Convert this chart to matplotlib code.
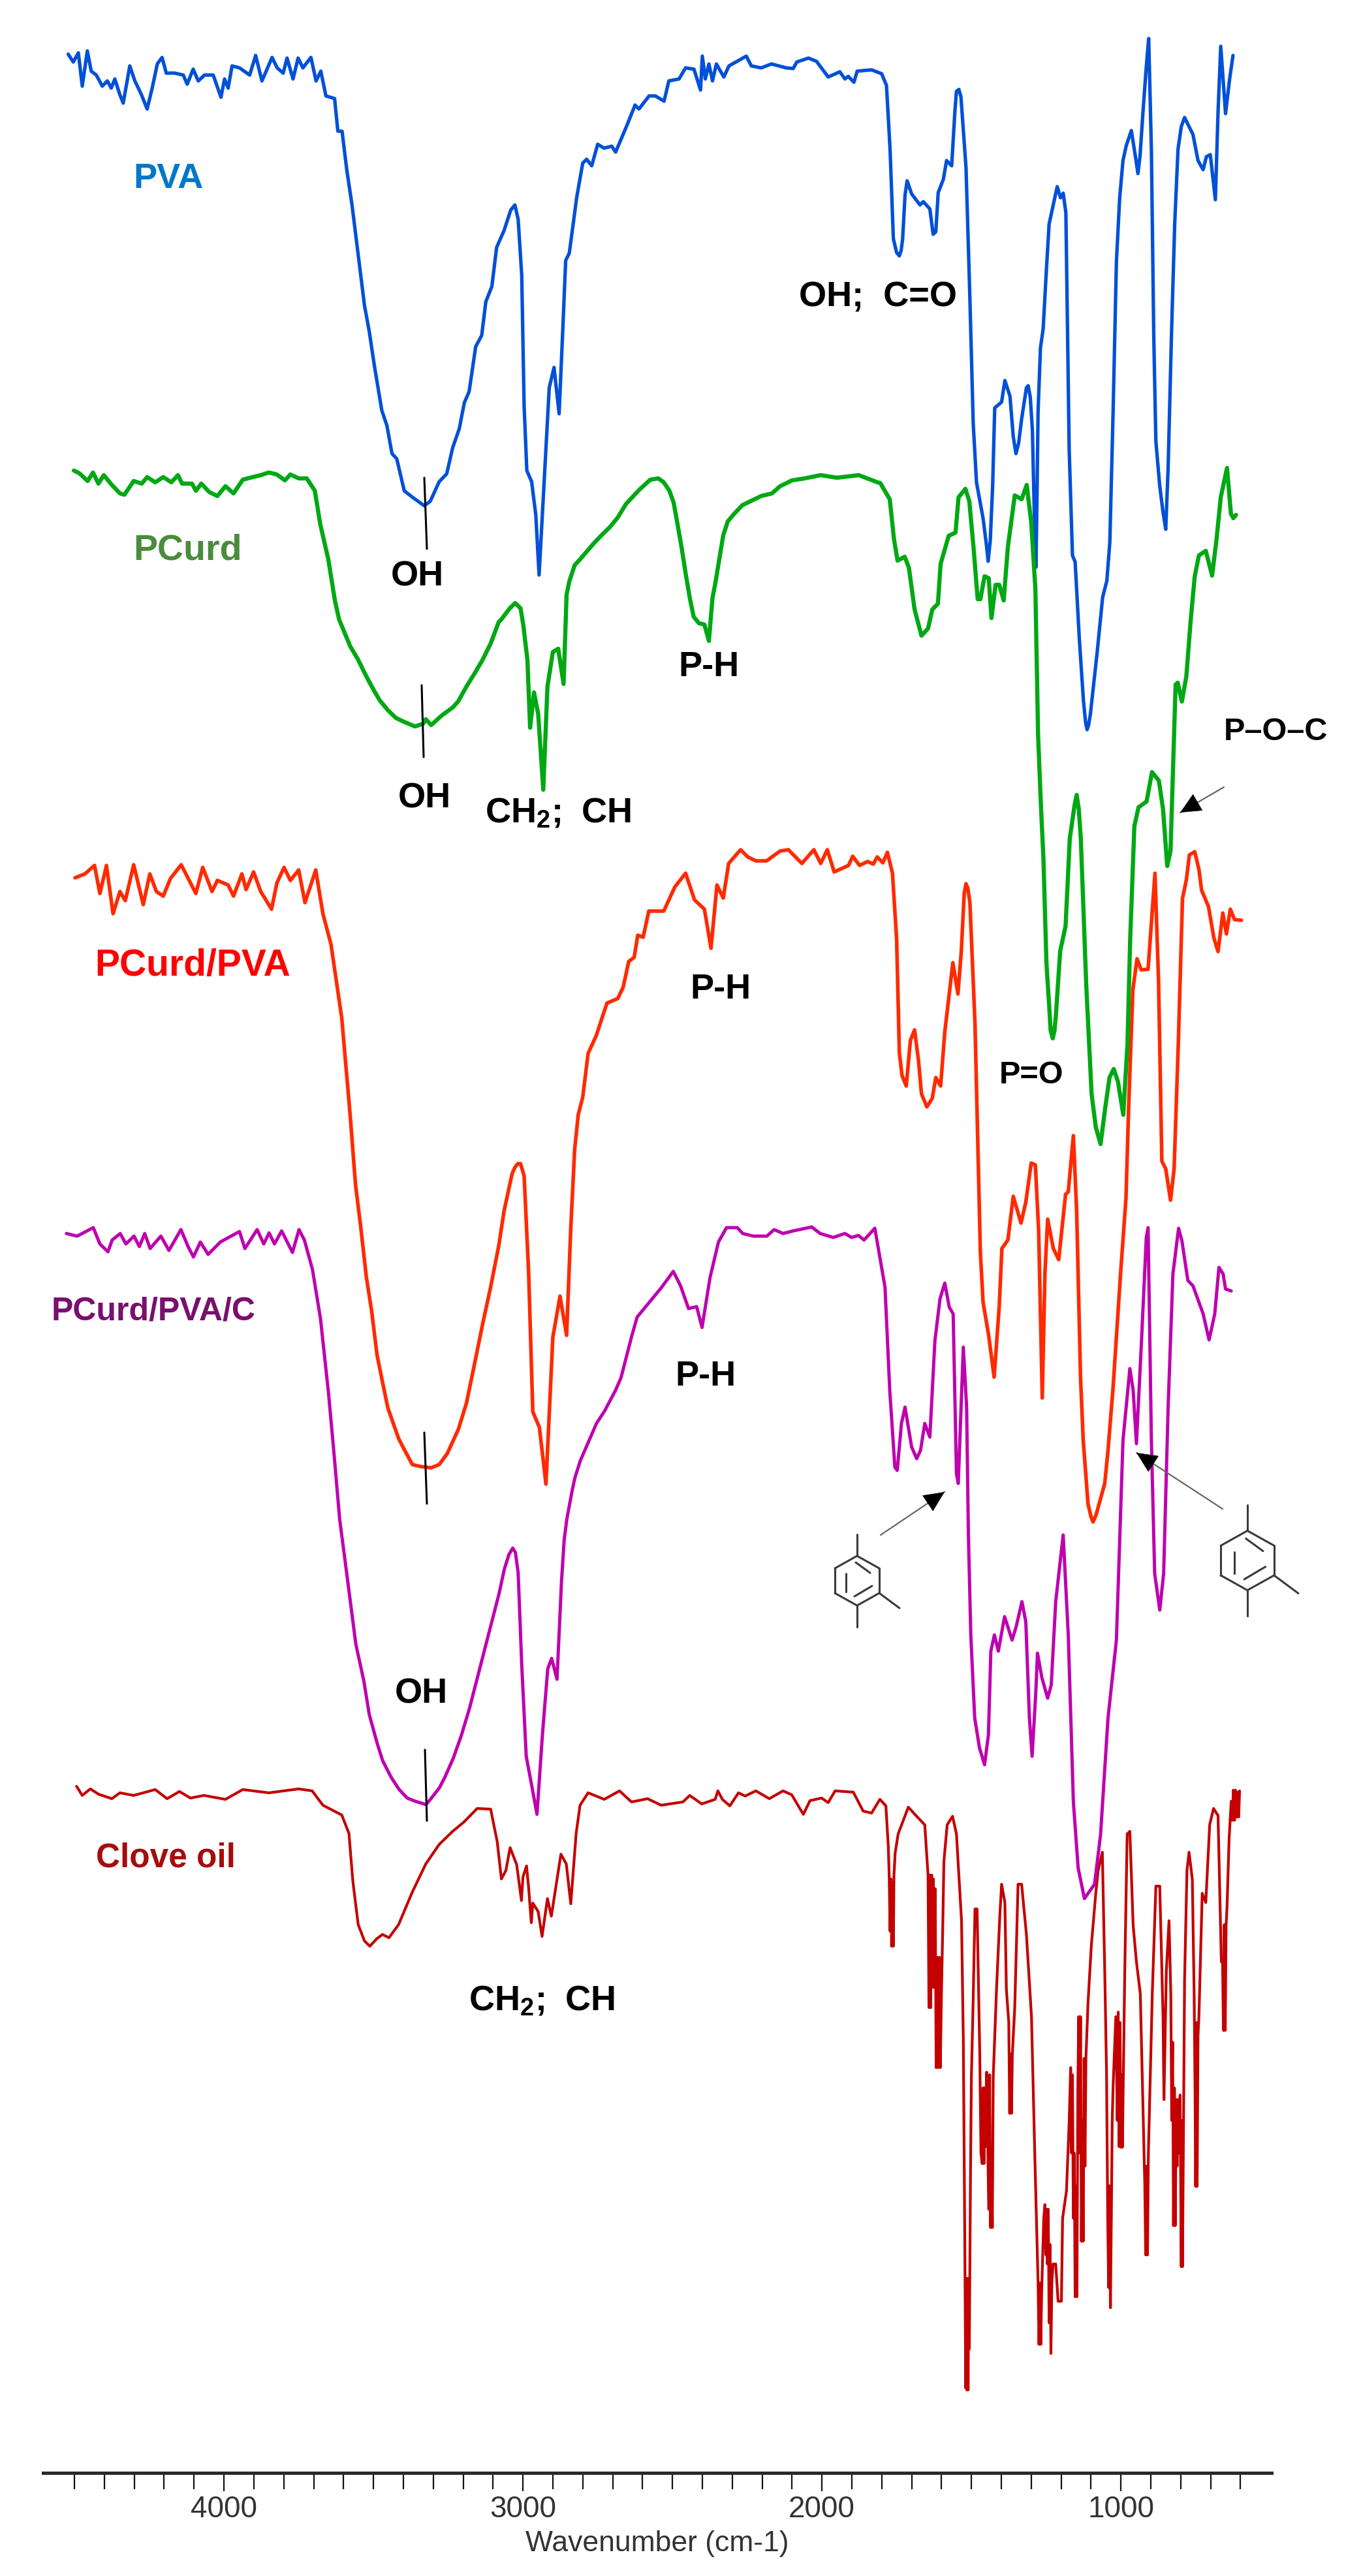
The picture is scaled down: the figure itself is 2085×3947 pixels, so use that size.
import matplotlib
matplotlib.use("Agg")
import matplotlib.pyplot as plt
from matplotlib.lines import Line2D
from matplotlib.transforms import Affine2D

W, H = 2085, 3948
plt.rcParams['font.family'] = ['Liberation Sans', 'DejaVu Sans']
plt.rcParams['mathtext.fontset'] = 'custom'
plt.rcParams['mathtext.bf'] = 'Liberation Sans:bold'
plt.rcParams['mathtext.rm'] = 'Liberation Sans'

# (wavenumber cm-1, stacked-offset signal; axis runs downward)
pva = [(4521,84),(4504,96),(4487,82),(4474,133),(4457,79),(4444,110),(4427,116),(4407,133),(4390,125),(4377,136),
(4365,122),(4349,145),(4337,159),(4315,102),(4298,125),(4277,145),(4257,168),(4240,136),(4223,99),(4207,89),
(4193,113),(4165,113),(4136,116),(4123,130),(4103,107),(4086,125),(4065,116),(4036,116),(4010,150),(3998,122),
(3986,136),(3973,102),(3948,105),(3914,116),(3894,86),(3873,125),(3839,89),(3822,105),(3802,113),(3789,90),
(3769,122),(3752,90),(3736,105),(3709,89),(3692,125),(3676,110),(3659,148),(3630,152),(3619,202),(3605,202),
(3589,262),(3572,314),(3555,377),(3530,469),(3514,509),(3497,561),(3472,630),(3455,653),(3438,696),(3422,704),
(3397,753),(3372,762),(3330,776),(3310,769),(3280,739),(3255,727),(3235,687),(3213,658),(3196,618),(3180,601),
(3158,532),(3138,515),(3124,463),(3104,440),(3088,380),(3063,354),(3041,323),(3027,315),(3016,337),(3004,423),
(2996,624),(2987,722),(2971,739),(2957,790),(2946,882),(2929,739),(2912,595),(2896,564),(2879,635),(2867,509),
(2857,400),(2845,389),(2820,303),(2800,251),(2787,245),(2770,255),(2750,222),(2729,228),(2703,225),(2690,234),
(2653,194),(2625,162),(2612,168),(2578,148),(2557,148),(2528,156),(2512,125),(2478,122),(2456,105),(2428,107),
(2406,139),(2400,87),(2390,122),(2378,99),(2366,125),(2353,99),(2328,119),(2311,102),(2253,87),(2236,102),
(2203,105),(2169,99),(2119,105),(2096,106),(2084,96),(2045,90),(2018,95),(1979,119),(1940,111),(1923,122),
(1912,118),(1893,127),(1882,110),(1834,108),(1800,114),(1784,132),(1772,230),(1761,367),(1750,388),(1741,393),(1735,385),(1730,367),
(1722,300),(1715,278),(1700,298),(1672,315),(1661,310),(1639,321),(1628,360),(1619,356),(1611,296),(1594,276),(1583,247),
(1566,255),(1555,170),(1550,141),(1542,138),(1535,149),(1518,258),(1505,459),(1494,649),(1483,740),(1461,795),(1450,835),(1444,861),(1437,830),(1429,746),
(1422,626),(1399,617),(1388,584),(1371,608),(1360,670),(1351,696),(1342,680),(1332,643),(1316,595),(1310,592),(1303,610),(1296,660),(1290,780),(1284,870),(1280,740),(1277,631),
(1269,534),(1260,505),(1249,413),(1240,344),(1224,310),(1213,287),(1202,304),(1193,297),(1184,327),(1180,459),
(1173,689),(1162,852),(1153,862),(1139,980),(1125,1076),(1118,1108),(1113,1119),(1108,1112),(1102,1095),(1079,999),(1061,916),(1047,891),
(1037,832),(1026,631),(1015,402),(1004,304),(993,247),(982,224),(965,201),(950,245),(943,267),(936,240),(926,172),(915,103),
(907,60),(898,230),(890,517),(883,677),(870,746),(859,786),(850,812),(842,718),(831,517),(820,344),
(809,230),(798,195),(787,181),(759,207),(742,247),(725,261),(714,241),(701,238),(684,307),(675,172),
(666,72),(650,175),(636,121),(625,86)]

pcurd = [(4502,722),(4484,726),(4456,738),(4438,725),(4420,742),(4402,729),(4375,744),(4348,757),(4333,759),(4302,738),
(4275,742),(4257,732),(4230,740),(4203,732),(4176,740),(4154,729),(4140,742),(4107,742),(4094,753),(4076,742),
(4049,755),(4022,761),(3995,746),(3968,757),(3937,736),(3904,732),(3877,729),(3850,725),(3823,728),(3796,737),
(3778,728),(3750,734),(3723,734),(3696,753),(3678,804),(3651,858),(3629,921),(3615,950),(3597,970),(3578,991),(3551,1012),(3533,1029),(3515,1045),(3497,1060),
(3479,1074),(3452,1089),(3425,1101),(3398,1107),(3361,1114),(3334,1110),(3325,1103),(3307,1112),(3271,1097),(3235,1085),(3217,1076),(3189,1053),(3162,1033),(3135,1012),(3108,987),(3081,954),(3072,950),(3044,933),(3026,925),
(3008,933),(2999,958),(2985,1012),(2976,1116),(2963,1062),(2949,1095),(2932,1211),(2918,1053),(2900,1000),(2882,995),(2864,1049),
(2854,912),(2845,892),(2827,867),(2809,858),(2764,834),(2737,821),(2710,809),(2683,794),(2655,773),(2610,751),(2574,736),(2547,734),(2529,740),(2510,753),(2496,771),(2483,804),(2470,838),
(2456,879),(2442,917),(2429,946),(2411,956),(2393,958),(2378,983),(2366,917),(2357,896),(2339,846),(2330,821),(2315,800),(2297,790),(2266,775),(2203,761),
(2167,757),(2140,746),(2100,737),(2058,734),(2004,729),(1950,733),(1877,729),(1814,740),(1805,741),(1773,766),(1759,827),
(1747,860),(1723,854),(1709,871),(1690,935),(1667,975),(1645,964),(1631,935),(1612,926),(1603,865),(1576,822),
(1553,817),(1543,763),(1520,750),(1507,769),(1493,839),(1479,919),(1470,919),(1456,884),(1442,887),(1433,948),
(1419,897),(1407,897),(1392,921),(1378,839),(1355,760),(1332,766),(1315,744),(1300,801),(1286,903),(1277,1127),
(1268,1229),(1259,1318),(1249,1477),(1240,1541),(1235,1580),(1228,1592),(1222,1580),(1217,1554),(1203,1458),(1185,1420),(1171,1286),(1155,1235),(1148,1219),(1141,1240),
(1134,1286),(1116,1509),(1098,1677),(1084,1728),(1068,1754),(1052,1697),(1038,1652),(1024,1639),(1010,1658),(992,1709),
(978,1601),(969,1441),(955,1267),(941,1238),(914,1229),(896,1184),(873,1197),(859,1241),(845,1328),(834,1305),
(822,1127),(817,1050),(810,1047),(796,1076),(781,1037),(767,954),(753,884),(739,852),(716,845),(695,883),
(680,827),(666,763),(645,718),(632,788),(624,795),(615,790)]

pcurd_pva = [(4498,1346),(4465,1340),(4433,1327),(4415,1370),(4393,1327),(4371,1401),(4348,1367),(4330,1381),(4302,1326),(4270,1387),
(4248,1340),(4226,1367),(4203,1374),(4179,1347),(4143,1326),(4094,1370),(4071,1330),(4040,1367),(4022,1350),(3986,1357),
(3968,1374),(3940,1340),(3926,1364),(3901,1337),(3877,1367),(3841,1394),(3823,1354),(3799,1330),(3778,1350),(3750,1334),
(3729,1384),(3693,1334),(3669,1401),(3642,1448),(3606,1561),(3578,1709),(3560,1816),(3542,1883),(3524,1957),(3506,2010),(3488,2077),(3470,2118),(3452,2158),(3416,2205),(3398,2221),
(3370,2245),(3343,2248),(3307,2250),(3280,2245),(3253,2228),(3216,2191),(3189,2151),(3162,2091),(3135,2030),(3108,1973),(3081,1910),(3063,1856),(3044,1816),(3036,1799),(3026,1789),(3017,1784),(3008,1784),(2996,1803),(2981,1950),
(2967,2164),(2945,2188),(2923,2275),(2900,2050),(2876,1987),(2854,2047),(2840,1883),(2827,1762),(2815,1709),(2800,1682),(2782,1615),(2755,1588),
(2719,1538),(2683,1531),(2665,1514),(2646,1474),(2628,1468),(2616,1434),(2598,1437),(2579,1397),(2529,1397),(2492,1360),
(2456,1339),(2426,1380),(2393,1394),(2371,1454),(2351,1357),(2330,1377),(2312,1324),(2272,1303),(2248,1314),(2221,1320),
(2185,1320),(2140,1305),(2112,1303),(2067,1324),(2027,1303),(2004,1324),(1982,1303),(1959,1337),(1911,1327),(1897,1313),
(1874,1327),(1847,1321),(1828,1325),(1815,1314),(1796,1323),(1781,1307),(1764,1339),(1750,1441),(1741,1614),(1732,1649),
(1718,1665),(1704,1595),(1690,1579),(1677,1626),(1667,1677),(1649,1697),(1631,1684),(1619,1652),(1603,1665),(1589,1582),
(1580,1547),(1562,1476),(1545,1524),(1534,1460),(1524,1370),(1518,1355),(1512,1362),(1505,1384),(1488,1569),(1470,1920),(1461,1996),(1442,2048),
(1424,2111),(1407,2003),(1398,1914),(1378,1901),(1360,1834),(1334,1875),(1318,1843),(1300,1783),(1286,1786),(1275,1888),
(1263,2143),(1254,1952),(1245,1869),(1226,1914),(1208,1931),(1185,1831),(1176,1827),(1159,1741),(1148,1856),(1135,2111),
(1126,2208),(1110,2305),(1100,2325),(1093,2333),(1083,2322),(1071,2302),(1054,2274),(1043,2223),(1026,2126),(1001,1952),(983,1837),(974,1697),
(960,1518),(946,1470),(932,1487),(909,1486),(886,1339),(874,1505),(863,1780),(850,1792),(834,1840),(822,1792),
(808,1601),(794,1378),(781,1349),(771,1311),(753,1306),(739,1333),(730,1365),(707,1390),(689,1438),(675,1459),
(659,1400),(647,1432),(634,1394),(620,1410),(597,1411)]

pcurd_pva_c = [(4527,1891),(4491,1895),(4437,1882),(4415,1907),(4388,1919),(4374,1901),(4347,1891),(4328,1907),(4301,1895),(4283,1911),
(4265,1891),(4247,1914),(4211,1895),(4184,1917),(4144,1885),(4120,1911),(4102,1927),(4079,1904),(4053,1923),(4012,1904),
(3948,1888),(3930,1914),(3889,1885),(3867,1907),(3849,1890),(3831,1907),(3807,1887),(3771,1920),(3749,1885),(3731,1901),
(3704,1946),(3677,2022),(3650,2137),(3631,2233),(3613,2329),(3595,2392),(3577,2456),(3559,2520),(3532,2577),(3514,2628),(3487,2673),(3469,2699),(3441,2724),(3414,2743),(3387,2756),(3360,2761),(3324,2766),
(3306,2756),(3279,2740),(3261,2724),(3233,2695),(3206,2660),(3179,2619),(3152,2571),(3125,2523),(3098,2475),(3080,2443),(3062,2405),(3047,2383),(3034,2373),(3025,2380),(3016,2411),(3004,2552),(2989,2692),
(2971,2736),(2953,2781),(2935,2660),(2917,2558),(2904,2542),(2886,2574),(2871,2424),(2862,2360),(2853,2328),(2835,2284),(2826,2265),(2808,2239),(2772,2201),(2754,2182),
(2727,2163),(2690,2131),(2672,2112),(2654,2080),(2636,2048),(2618,2019),(2573,1994),(2537,1974),(2497,1949),(2473,1971),(2446,2006),(2419,2003),
(2401,2035),(2374,1958),(2346,1904),(2319,1882),(2283,1882),(2265,1891),(2229,1895),(2184,1895),(2160,1885),(2130,1891),
(2096,1887),(2034,1881),(2006,1891),(1962,1897),(1923,1891),(1901,1897),(1878,1894),(1859,1901),(1823,1883),(1806,1928),
(1789,1973),(1773,2132),(1756,2249),(1748,2254),(1734,2182),(1722,2157),(1700,2218),(1683,2236),(1670,2223),(1656,2182),
(1639,2203),(1622,2055),(1605,1991),(1589,1967),(1574,2004),(1561,2014),(1550,2259),(1544,2274),(1527,2065),(1516,2157),
(1510,2353),(1502,2506),(1489,2633),(1473,2679),(1456,2705),(1443,2659),(1435,2531),(1423,2506),(1410,2531),(1389,2478),
(1364,2514),(1350,2493),(1331,2455),(1318,2486),(1306,2633),(1297,2692),(1285,2598),(1279,2534),(1264,2572),(1245,2603),
(1233,2583),(1218,2455),(1193,2353),(1176,2506),(1159,2761),(1143,2863),(1122,2910),(1088,2888),(1068,2812),(1043,2633),
(1015,2514),(993,2208),(970,2098),(959,2131),(948,2213),(931,2055),(915,1897),(909,1882),(898,2208),(887,2412),
(870,2468),(857,2412),(842,2157),(826,1953),(807,1883),(796,1902),(776,1963),(759,1971),(725,2014),(705,2054),
(686,2014),(672,1943),(658,1953),(650,1976),(631,1979)]

clove_oil = [(4493,2738),(4474,2752),(4447,2742),(4420,2750),(4375,2757),(4348,2748),(4302,2752),(4230,2743),(4190,2757),(4149,2746),
(4112,2756),(4067,2752),(3995,2758),(3937,2743),(3850,2748),(3750,2742),(3705,2745),(3669,2767),(3606,2782),(3582,2810),
(3569,2883),(3551,2950),(3530,2975),(3512,2983),(3490,2972),(3470,2965),(3448,2970),(3416,2950),(3370,2900),(3325,2857),(3280,2827),(3235,2807),
(3198,2793),(3153,2772),(3108,2773),(3086,2823),(3072,2880),(3057,2867),(3043,2832),(3021,2858),(3005,2913),(3000,2877),
(2988,2860),(2981,2893),(2972,2947),(2967,2917),(2949,2930),(2936,2968),(2918,2910),(2905,2937),(2873,2842),(2855,2857),
(2840,2918),(2822,2810),(2809,2767),(2782,2748),(2728,2758),(2677,2745),(2637,2762),(2583,2757),(2538,2767),(2465,2762),
(2442,2752),(2402,2765),(2357,2758),(2348,2745),(2333,2758),(2308,2768),(2279,2748),(2257,2753),(2221,2745),(2176,2757),
(2130,2745),(2101,2751),(2079,2768),(2062,2781),(2040,2760),(2001,2756),(1979,2763),(1956,2745),(1895,2747),(1862,2776),
(1834,2779),(1806,2758),(1786,2768),(1778,2830),(1775,2874),(1772,2960),(1769,2880),(1767,2983),(1764,2885),(1761,2983),(1759,2874),(1755,2840),(1745,2811),(1711,2770),(1683,2784),(1656,2797),
(1645,2874),(1642,3077),(1639,2874),(1636,3077),(1633,2874),(1630,3046),(1627,2880),(1624,3046),(1621,2895),(1618,3169),(1614,3000),(1611,3169),(1607,3000),(1604,3169),(1600,3050),(1596,2958),(1592,2853),(1581,2797),
(1563,2784),(1550,2811),(1533,2944),(1527,3127),(1522,3442),(1519,3660),(1517,3492),(1515,3663),(1513,3492),(1511,3663),(1509,3492),(1507,3600),(1503,3330),
(1500,3183),(1494,3063),(1488,2926),(1481,2926),(1472,3148),(1468,3300),(1464,3316),(1461,3200),(1458,3316),(1455,3200),(1452,3290),(1449,3176),(1445,3300),(1442,3386),(1439,3180),(1436,3414),(1433,3300),(1430,3414),
(1427,3183),(1416,3049),(1405,2937),(1399,2888),(1388,2916),(1383,3049),(1375,3100),(1372,3239),(1369,3148),(1366,3239),(1363,3148),(1355,3077),(1344,2888),
(1332,2888),(1316,2965),(1299,3091),(1288,3302),(1277,3499),(1274,3593),(1271,3499),(1268,3593),(1265,3513),(1258,3400),(1254,3379),(1251,3456),(1249,3386),(1246,3470),(1243,3386),(1240,3560),(1237,3440),
(1234,3607),(1231,3500),(1227,3470),(1218,3470),(1210,3527),(1199,3527),(1195,3400),(1182,3358),(1173,3253),(1168,3169),(1165,3300),(1162,3180),(1159,3400),(1156,3300),
(1153,3520),(1150,3350),(1147,3520),(1144,3200),(1141,3091),(1138,3300),(1135,3091),(1132,3435),(1129,3250),(1126,3435),(1123,3155),(1120,3320),(1117,3155),(1110,3070),(1099,2983),(1084,2902),(1076,2867),(1062,2839),
(1054,3021),(1048,3176),(1044,3400),(1041,3506),(1038,3350),(1035,3537),(1032,3400),(1029,3250),(1026,3197),(1017,3091),(1012,3250),(1009,3084),(1006,3290),(1003,3100),(1000,3291),(997,3180),(995,3291),(987,3021),
(979,2811),(970,2807),(959,2951),(948,3007),(935,3056),(926,3232),(920,3350),(917,3456),(914,3320),(911,3456),(908,3300),(895,3056),(883,2891),
(870,2891),(859,3091),(856,3218),(848,3021),(839,2944),(833,3056),(830,3250),(827,3130),(824,3411),(821,3200),(818,3411),(815,3218),(812,3320),(809,3218),(805,3300),(802,3211),(798,3474),(796,3250),(794,3474),
(787,3035),(779,2867),(772,2839),(761,2881),(755,3056),(752,3200),(750,3351),(747,3100),(745,3351),(742,3120),(739,3091),(728,2902),(716,2916),
(703,2797),(690,2772),(675,2783),(664,3007),(660,3007),(657,3112),(654,2950),(651,3112),(648,2950),(645,2923),(638,2818),(631,2761),(627,2790),(624,2744),(620,2790),(617,2744),(613,2785),(610,2747),(606,2785),(603,2745)]

major_ticks = [4000, 3000, 2000, 1000]
minor_ticks = [w for w in range(4500, 500, -100) if w % 1000 != 0]

fig = plt.figure(figsize=(W / 100, H / 100), dpi=100, facecolor='white')
ax = fig.add_axes([66 / W, (H - 3790) / H, (1948 - 66) / W, 3790 / H])
ax.set_xlim(4605, 496)
ax.set_ylim(3790, 0)
ax.patch.set_alpha(0)

series = [(clove_oil, '#C40000', 3.0), (pcurd_pva_c, '#BE00AE', 3.6),
          (pcurd_pva, '#FF2A00', 4.0), (pva, '#0050D8', 3.8), (pcurd, '#00A813', 4.6)]
for pts, col, lw in series:
    xs, ys = zip(*pts)
    ax.plot(xs, ys, color=col, lw=lw, solid_joinstyle='round', solid_capstyle='round')

for s in ('left', 'right', 'top'):
    ax.spines[s].set_visible(False)
ax.spines['bottom'].set_linewidth(3.6)
ax.spines['bottom'].set_color('#2a2a2a')
ax.set_yticks([])
ax.set_xticks(major_ticks)
ax.set_xticks(minor_ticks, minor=True)
ax.set_xticklabels([str(m) for m in major_ticks], fontsize=33, color='#333333')
ax.tick_params(axis='x', which='major', length=20, width=1.6, pad=4, color='#111111')
ax.tick_params(axis='x', which='minor', length=13, width=1.6, color='#111111')
for t in ax.xaxis.get_minor_ticks():
    if t.get_loc() % 500 == 0:
        t.tick1line.set_markersize(18)
ax.set_xlabel('Wavenumber (cm-1)', fontsize=32, color='#333333', labelpad=7)

px = Affine2D().scale(1 / W, -1 / H).translate(0, 1) + fig.transFigure

def label(x, y, s, size, color='black', weight='bold'):
    fig.text(x, y, s, transform=px, fontsize=size, color=color, weight=weight, ha='center', va='center')

label(258, 274, 'PVA', 39, '#0078C8')
label(287, 844, 'PCurd', 40, '#4A8C3C')
label(295, 1480, 'PCurd/PVA', 41, '#FF0000')
label(235, 2009, 'PCurd/PVA/C', 36, '#7A0F6E')
label(254, 2847, 'Clove oil', 37, '#A50D0D')
label(639, 884, 'OH', 39)
label(650, 1224, 'OH', 39)
label(645, 2596, 'OH', 39)
label(855, 1246, r'$\mathbf{CH_2;\ CH}$', 39)
label(830, 3065, r'$\mathbf{CH_2;\ CH}$', 39)
label(1086, 1022, 'P-H', 39)
label(1104, 1516, 'P-H', 39)
label(1081, 2109, 'P-H', 39)
label(1345, 456, 'OH;  C=O', 39)
label(1580, 1648, 'P=O', 35)
label(1954, 1122, 'P\u2013O\u2013C', 35)

def seg(x0, y0, x1, y1, lw=2.2, color='black'):
    fig.add_artist(Line2D([x0, x1], [y0, y1], transform=px, color=color, lw=lw,
                          solid_capstyle='round'))

for x0, y0, x1, y1 in [(650, 733, 654, 842), (646, 1051, 649, 1161),
                       (650, 2196, 654, 2305), (651, 2682, 654, 2791)]:
    seg(x0, y0, x1, y1)

def arrow(x0, y0, x1, y1):
    seg(x0, y0, x1, y1, 1.6, '#666666')
    L = ((x1 - x0) ** 2 + (y1 - y0) ** 2) ** 0.5
    hx, hy = x1 - (x1 - x0) / L * 24, y1 - (y1 - y0) / L * 24
    fig.add_artist(plt.Annotation('', xy=(x1, y1), xytext=(hx, hy), xycoords=px, textcoords=px,
                            arrowprops=dict(arrowstyle='-|>,head_length=0.9,head_width=0.42', fc='black', ec='black',
                                            lw=0.5, mutation_scale=24, shrinkA=0, shrinkB=0)))

arrow(1875, 1207, 1808, 1246)
arrow(1349, 2353, 1447, 2287)
arrow(1873, 2313, 1741, 2227)

def ring(cx, cy, k, col='#3a3a3a'):
    verts = [(0, -38), (34, -19), (34, 19), (0, 38), (-34, 19), (-34, -19)]
    for i in range(6):
        a, b = verts[i], verts[(i + 1) % 6]
        seg(cx + k * a[0], cy + k * a[1], cx + k * b[0], cy + k * b[1], 2.2, col)
    for a, b in [((0, -38), (0, -71)), ((0, 38), (0, 71)), ((34, 19), (65, 42)),
                 ((-17, -11), (-17, 17)), ((-2, -28), (20, -12)), ((-4, 24), (23, 8))]:
        seg(cx + k * a[0], cy + k * a[1], cx + k * b[0], cy + k * b[1], 2.2, col)

ring(1313, 2423, 1.0)
ring(1911, 2392, 1.2)

fig.savefig('out.png', dpi=100, facecolor='white')
